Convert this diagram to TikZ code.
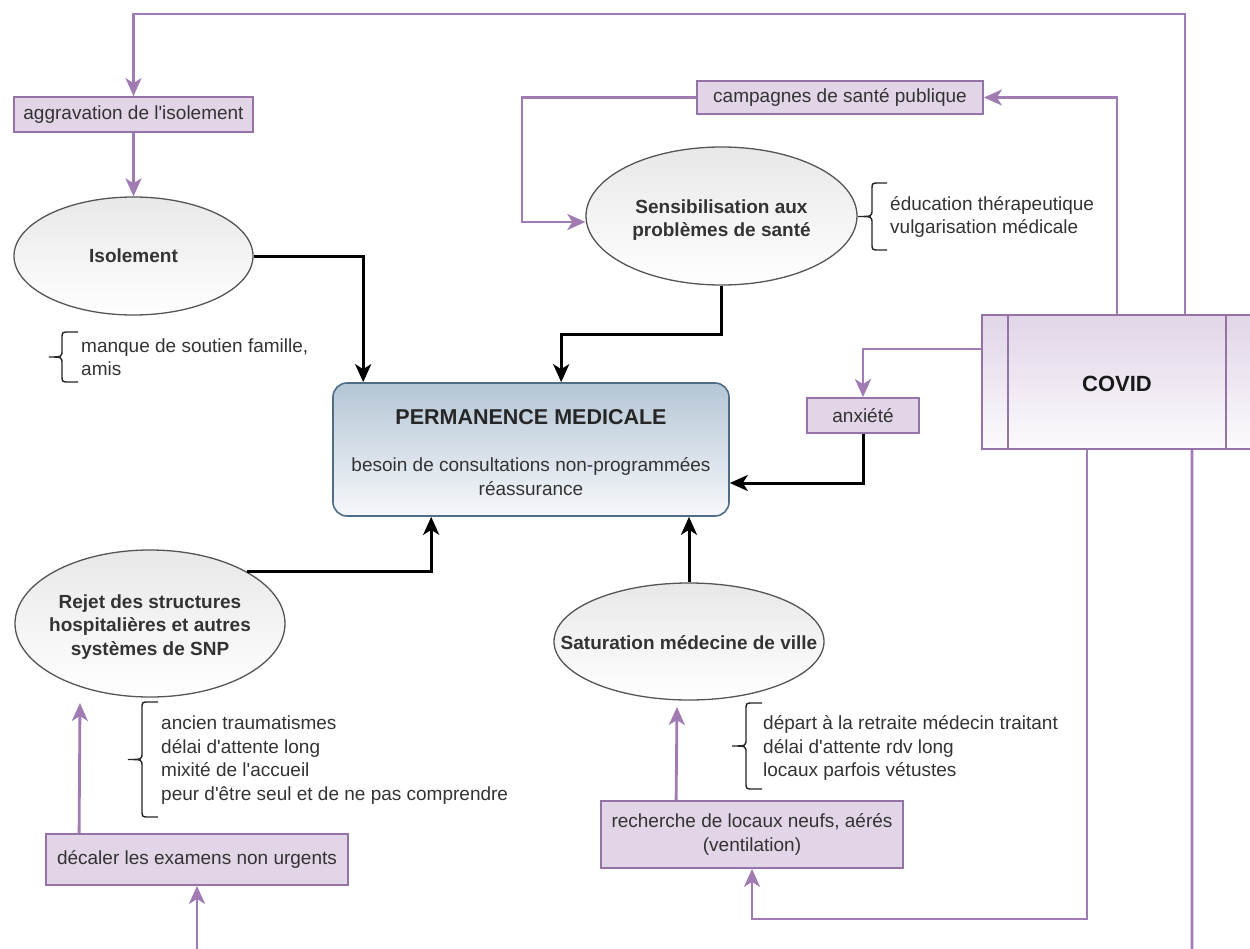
\documentclass[tikz,border=0pt]{standalone}
\usepackage{fontspec}
\setmainfont{Liberation Sans}
\usetikzlibrary{arrows.meta,shapes.geometric,calc}
\definecolor{pfill}{HTML}{E1D5E7}
\definecolor{pline}{HTML}{9673A6}
\definecolor{plink}{HTML}{A07CB3}
\definecolor{pbot}{HTML}{FCFAFD}
\definecolor{txt}{HTML}{333333}
\definecolor{ellline}{HTML}{555555}
\definecolor{elltop}{HTML}{E8E8E8}
\definecolor{mtop}{HTML}{B5C6D5}
\definecolor{mbot}{HTML}{F6F8FB}
\definecolor{mline}{HTML}{4F6D87}
\newcommand{\fnt}{\fontsize{19bp}{23.5bp}\selectfont}
\newcommand{\drawbrace}[5]{%
  \draw[bracestyle] (#3,#4) -- ({#2+7},#4) .. controls (#2,#4) .. (#2,{#4+7})
    -- (#2,{(#4+#5)/2-7}) .. controls (#2,{(#4+#5)/2}) .. (#1,{(#4+#5)/2})
    .. controls (#2,{(#4+#5)/2}) .. (#2,{(#4+#5)/2+7})
    -- (#2,{#5-7}) .. controls (#2,#5) .. ({#2+7},#5) -- (#3,#5);}
\begin{document}
\begin{tikzpicture}[x=1bp,y=-1bp,
  pbox/.style={draw=pline,fill=pfill,line width=1.8bp,inner sep=0pt,text=txt,font=\fnt,align=center},
  ell/.style={ellipse,draw=ellline,line width=1.3bp,top color=elltop,bottom color=white,inner sep=0pt},
  elltext/.style={font=\fnt\bfseries,text=txt,align=center},
  listtext/.style={font=\fnt,text=txt,align=left,anchor=west,inner sep=0pt},
  plinkst/.style={draw=plink,line width=2.8bp},
  parr/.style={plinkst,-{Stealth[length=18bp,width=16bp,inset=5bp]}},
  barr/.style={draw=black,line width=3bp,-{Stealth[length=18bp,width=16bp,inset=5bp]}},
  bracestyle/.style={draw=black!85,line width=1.4bp},
]
\clip (0,0) rectangle (1250,949);
\fill[white] (0,0) rectangle (1250,949);

% nodes
\node[pbox,minimum width=239bp,minimum height=35bp] (aggr) at (133.5,114.5) {aggravation de l\textquotesingle isolement};
\node[ell,minimum width=239bp,minimum height=118bp] (iso) at (133.5,256) {};
\node[elltext] (isot) at (iso) {Isolement};
\node[pbox,minimum width=286bp,minimum height=33bp] (camp) at (840,97.5) {campagnes de santé publique};
\node[ell,minimum width=271bp,minimum height=138bp] (sens) at (721.5,216) {};
\node[elltext] (senst) at (721.5,220) {Sensibilisation aux\\problèmes de santé};
\node[draw=mline,rounded corners=14bp,top color=mtop,bottom color=mbot,line width=1.6bp,minimum width=396bp,minimum height=133bp,inner sep=0pt] (main) at (531,449.5) {};
\node[font=\fontsize{21.5bp}{25bp}\selectfont\bfseries,text=black!85] (mt1) at (531,417) {PERMANENCE MEDICALE};
\node[font=\fnt,text=txt,align=center] (mt2) at (531,476.5) {besoin de consultations non-programmées\\réassurance};
\node[pbox,minimum width=112bp,minimum height=35bp] (anx) at (863,415.5) {anxiété};
\node[draw=pline,line width=1.8bp,top color=pfill,bottom color=pbot,minimum width=270bp,minimum height=134bp,inner sep=0pt] (covid) at (1117,382) {};
\draw[draw=pline,line width=1.8bp] ([xshift=27bp]covid.north west) -- ([xshift=27bp]covid.south west);
\draw[draw=pline,line width=1.8bp] ([xshift=-27bp]covid.north east) -- ([xshift=-27bp]covid.south east);
\node[font=\fontsize{22bp}{26bp}\selectfont\bfseries,text=black!90] (covidt) at (1117,384) {COVID};
\node[ell,minimum width=270bp,minimum height=147bp] (rej) at (150,623.5) {};
\node[elltext] (rejt) at (150,627) {Rejet des structures\\hospitalières et autres\\systèmes de SNP};
\node[ell,minimum width=270bp,minimum height=117bp] (sat) at (689,641.5) {};
\node[elltext] (satt) at (689,643) {Saturation médecine de ville};
\node[pbox,minimum width=302bp,minimum height=51bp] (decal) at (197,859.5) {décaler les examens non urgents};
\node[pbox,minimum width=302bp,minimum height=67bp] (rech) at (752,834.5) {recherche de locaux neufs, aérés\\(ventilation)};

% lists
\node[listtext] (l1) at (81,357) {manque de soutien famille,\\amis};
\node[listtext] (l2) at (890,217) {éducation thérapeutique\\vulgarisation médicale};
\node[listtext] (l3) at (161,760) {ancien traumatismes\\délai d\textquotesingle attente long\\mixité de l\textquotesingle accueil\\peur d\textquotesingle être seul et de ne pas comprendre};
\node[listtext] (l4) at (763,748) {départ à la retraite médecin traitant\\délai d\textquotesingle attente rdv long\\locaux parfois vétustes};

% braces
\drawbrace{49}{62}{78}{332}{382}
\drawbrace{858}{872}{887}{183}{250}
\drawbrace{128}{142}{158}{702}{817}
\drawbrace{732}{746}{762}{703}{789}

% black connectors
\draw[barr] (iso.east) -| ([xshift=31bp]main.north west);
\draw[barr] (sens.south) -- ++(0,49) -| ([xshift=229bp]main.north west);
\draw[barr] (anx.south) |- ([yshift=-33.5bp]main.east);
\draw[barr] (rej.28) -| ([xshift=99bp]main.south west);
\draw[barr] (sat.north) -- (sat.north |- main.south);

% purple connectors
\coordinate (topc) at (1185,14);
\coordinate (sbend) at (522,222);
\coordinate (offb) at (1192,960);
\coordinate (offa) at (197,960);
\coordinate (rejin) at (80,703);
\coordinate (satin) at (677,707);
\draw[parr] (covid.north) |- (camp.east);
\draw[parr] (covid.north -| topc) -- (topc) -| (aggr.north);
\draw[parr] (aggr.south) -- (iso.north);
\draw[parr] (camp.west) -| (sbend) -- (sbend -| sens.west);
\draw[parr] ([yshift=33bp]covid.west) -| (anx.north);
\draw[parr] ([xshift=-30bp]covid.south) |- ([yshift=-50bp]rech.south) -- (rech.south);
\draw[plinkst] ([xshift=75bp]covid.south) -- (offb);
\draw[parr] (offa) -- (decal.south);
\draw[parr] ([xshift=34bp]decal.north west) -- (rejin);
\draw[parr] ([xshift=76bp]rech.north west) -- (satin);
\end{tikzpicture}
\end{document}
